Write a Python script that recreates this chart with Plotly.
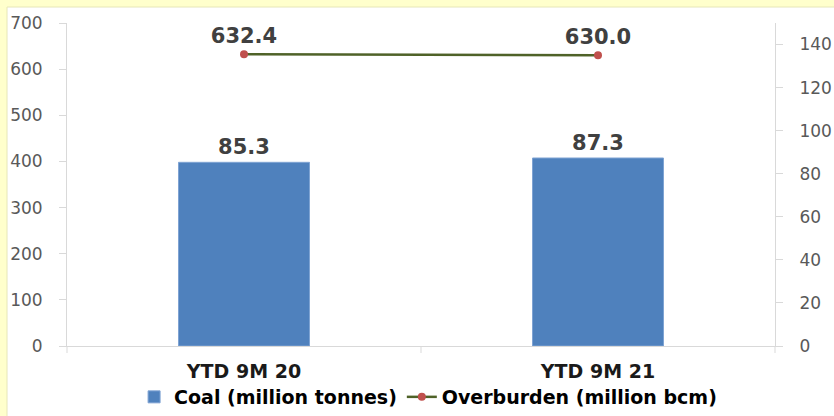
import plotly.graph_objects as go

categories = ["YTD 9M 20", "YTD 9M 21"]
coal = [85.3, 87.3]
overburden = [632.4, 630.0]
coal_labels = ["85.3", "87.3"]
ob_labels = ["632.4", "630.0"]
left_ticks = [0, 100, 200, 300, 400, 500, 600, 700]
right_ticks = [0, 20, 40, 60, 80, 100, 120, 140]

W, H = 834, 416
L, R, T, B = 67, 59, 23, 70
pw, ph = W - L - R, H - T - B

def px_x(p):
    return (p - L) / pw

def px_y(p):
    return (H - B - p) / ph

fig = go.Figure()
fig.add_trace(go.Bar(
    x=categories, y=coal, yaxis="y2", name="Coal (million tonnes)",
    marker=dict(color="#4F81BD", line=dict(color="#7FA3D3", width=1)),
    width=0.37, text=coal_labels, textposition="outside", cliponaxis=False,
    textfont=dict(family="DejaVu Sans", size=21, color="#404040", weight="bold"),
))
fig.add_trace(go.Scatter(
    x=categories, y=overburden, yaxis="y", name="Overburden (million bcm)",
    mode="lines+markers+text", text=ob_labels, textposition="top center",
    line=dict(color="#4F6228", width=2.5),
    marker=dict(color="#C0504D", size=8),
    textfont=dict(family="DejaVu Sans", size=21, color="#404040", weight="bold"),
    cliponaxis=False,
))

fig.update_layout(
    width=W, height=H,
    margin=dict(l=L, r=R, t=T, b=B, autoexpand=False),
    paper_bgcolor="#FFFFCC",
    plot_bgcolor="white",
    showlegend=True,
    legend=dict(orientation="h", x=0.51, xanchor="center", y=px_y(397), yanchor="middle",
                font=dict(family="DejaVu Sans", size=19, color="#000000", weight="bold"),
                bgcolor="rgba(0,0,0,0)", itemwidth=30),
    xaxis=dict(type="category", showgrid=False, showline=True, linecolor="#D9D9D9", linewidth=1,
               ticks="", automargin=False, ticklabelstandoff=8,
               tickfont=dict(family="DejaVu Sans", size=19, color="#1A1A1A", weight="bold"),
               range=[-0.5, 1.5]),
    yaxis=dict(range=[0, 700], tickvals=left_ticks, showgrid=False, zeroline=False,
               showline=True, linecolor="#D9D9D9", linewidth=1, ticks="outside", ticklen=7,
               tickcolor="#D9D9D9", automargin=False, ticklabelstandoff=13,
               tickfont=dict(family="DejaVu Sans", size=17, color="#595959")),
    yaxis2=dict(range=[0, 150], tickvals=right_ticks, overlaying="y", side="right",
                showgrid=False, zeroline=False, showline=True, linecolor="#D9D9D9", linewidth=1,
                ticks="outside", ticklen=7, tickcolor="#D9D9D9", automargin=False,
                ticklabelstandoff=13,
                tickfont=dict(family="DejaVu Sans", size=17, color="#595959")),
    shapes=[
        dict(type="rect", xref="paper", yref="paper", x0=px_x(7), x1=px_x(W + 5),
             y0=px_y(H + 5), y1=px_y(7), fillcolor="white",
             line=dict(color="#E6E6B8", width=1), layer="below"),
        dict(type="line", xref="paper", yref="paper", x0=0.5, x1=0.5, y0=0, y1=-7 / ph,
             line=dict(color="#D9D9D9", width=1)),
        dict(type="line", xref="paper", yref="paper", x0=0, x1=0, y0=0, y1=-7 / ph,
             line=dict(color="#D9D9D9", width=1)),
        dict(type="line", xref="paper", yref="paper", x0=1, x1=1, y0=0, y1=-7 / ph,
             line=dict(color="#D9D9D9", width=1)),
    ],
)

fig.write_html("out.html", config={"displayModeBar": False},
               post_script="document.body.style.margin='0';document.body.style.padding='0';")
